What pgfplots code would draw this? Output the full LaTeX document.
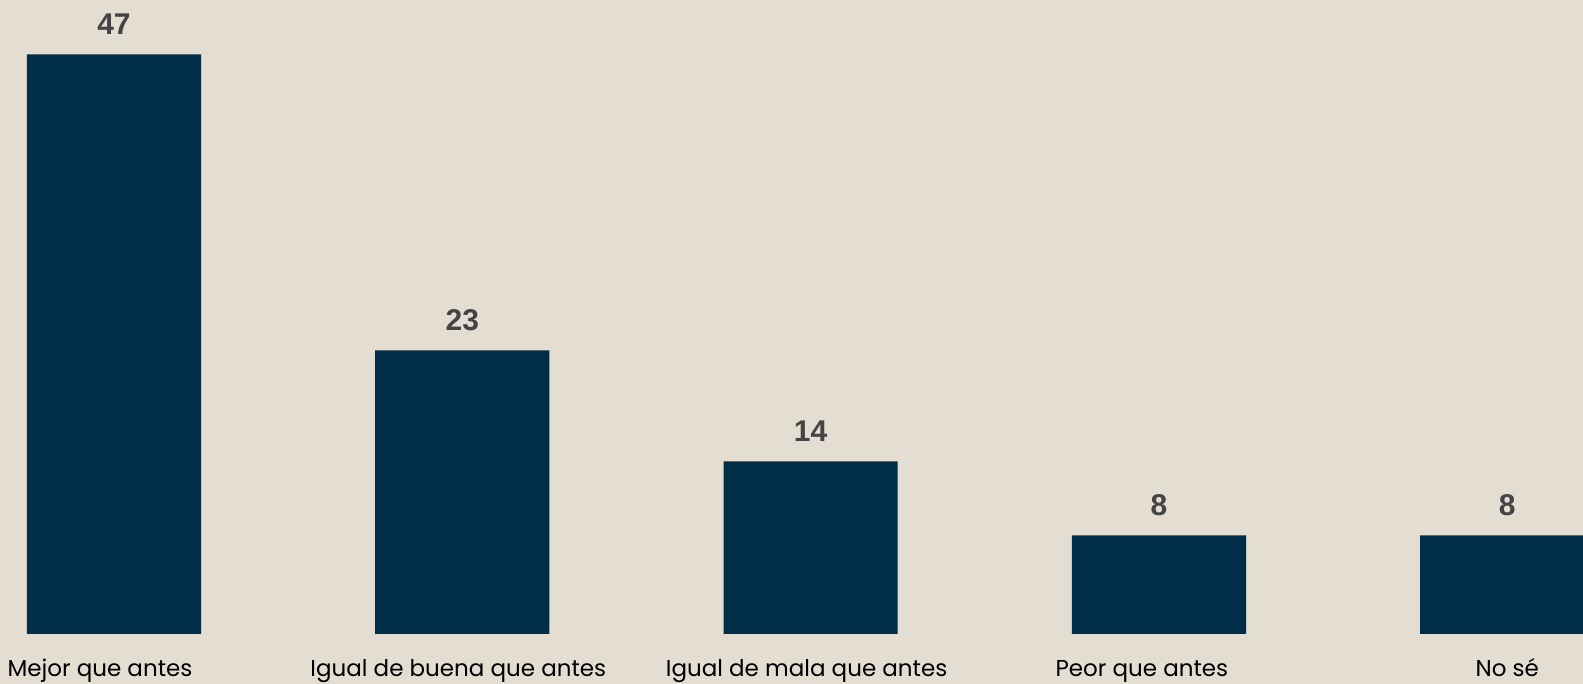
\documentclass[border=0pt]{standalone}
\usepackage{pgfplots}
\pgfplotsset{compat=1.18}
\usepackage{fontspec}
\setmainfont{Poppins}
\newfontfamily\valfont{Liberation Sans}
\definecolor{bg}{HTML}{E3DDD2}
\definecolor{barc}{HTML}{002E48}
\definecolor{valc}{HTML}{444444}
\begin{document}
\begin{tikzpicture}
\fill[bg] (0,-25pt) rectangle (791.5pt,317pt);
\begin{axis}[
  at={(0,0)}, anchor=south west,
  scale only axis,
  width=791.5pt, height=317pt,
  xmin=-0.3273, xmax=4.2176,
  ymin=0, ymax=51.4,
  axis line style={draw=none},
  ytick=\empty,
  ybar, bar width=0.5,
  xtick=data,
  xticklabels={Mejor que antes\hspace*{14pt}, Igual de buena que antes\hspace*{4pt}, Igual de mala que antes\hspace*{4pt}, Peor que antes\hspace*{17pt}, No sé},
  major tick length=0pt,
  /pgf/number format/assume math mode=true,
  xticklabel style={font=\fontsize{11.5}{13}\selectfont, anchor=base, inner sep=0pt, yshift=-21.5pt, text=black},
  nodes near coords,
  every node near coord/.append style={font=\fontsize{15}{17}\valfont\bfseries, text=valc, anchor=base, inner sep=0pt, yshift=9.75pt},
  clip=true,
]
\addplot[fill=barc, draw=none] coordinates {(0,47) (1,23) (2,14) (3,8) (4,8)};
\end{axis}
\pgfresetboundingbox
\path[use as bounding box] (0,-25pt) rectangle (791.5pt,317pt);
\end{tikzpicture}
\end{document}
